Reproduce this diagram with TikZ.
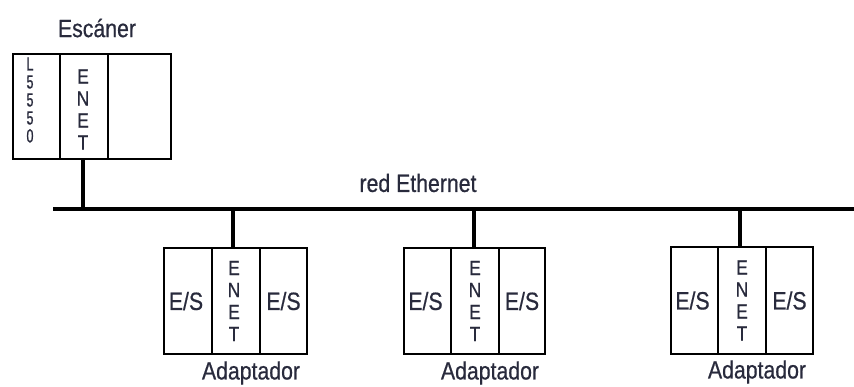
\documentclass[tikz,border=0pt]{standalone}
\usepackage{fontspec}
\setmainfont{Liberation Sans}
\newfontfamily\narrowsans[FakeStretch=0.85,FakeBold=0.6]{Liberation Sans}
\newfontfamily\tightsans[FakeStretch=0.66,FakeBold=0.9]{Liberation Sans}
\definecolor{ink}{RGB}{40,42,60}
\begin{document}
\begin{tikzpicture}[x=1pt,y=-1pt,
  slot/.style={draw=black, line width=1.4pt, inner sep=0pt, outer sep=0pt,
               anchor=north west, minimum height=#1},
  slot/.default=106pt,
  lbl/.style={text=ink, font=\narrowsans\fontsize{25}{28}\selectfont, inner sep=0pt},
  stack/.style={text=ink, font=\narrowsans\fontsize{20.5}{22}\selectfont, align=center, inner sep=0pt},
  small stack/.style={text=ink, font=\tightsans\fontsize{19}{18}\selectfont, align=center, inner sep=0pt},
  bus/.style={line width=3.8pt},
  drop/.style={line width=3.6pt}]
\useasboundingbox (0,0) rectangle (854,387);

% scanner chassis
\node[slot=105pt, minimum width=47pt] (sc1) at (13,54) {};
\node[slot=105pt, minimum width=48pt] (sc2) at (60,54) {};
\node[slot=105pt, minimum width=63pt] (sc3) at (108,54) {};
\node[lbl] (scname) at (97,28) {Escáner};
\node[small stack] (sc1t) at (30,100) {L\\5\\5\\5\\0};
\node[stack] (sc2t) at ([xshift=-1pt,yshift=-3pt]sc2.center) {E\\N\\E\\T};

% Ethernet trunk
\coordinate (busW) at (53,209);
\coordinate (busE) at (854,209);
\draw[bus] (busW) -- (busE);
\node[lbl] (netname) at (418,183) {red Ethernet};

% adapter chassis 1
\node[slot, minimum width=48pt] (a1l) at (164,248) {};
\node[slot, minimum width=48pt] (a1m) at (212,248) {};
\node[slot, minimum width=47pt] (a1r) at (260,248) {};
\node[lbl] (a1lt) at ([xshift=-2pt]a1l.center) {E/S};
\node[stack] (a1mt) at ([xshift=-2pt]a1m.center) {E\\N\\E\\T};
\node[lbl] (a1rt) at (a1r.center) {E/S};
\node[lbl] (a1name) at (251,373) {Adaptador};

% adapter chassis 2
\node[slot, minimum width=47pt] (a2l) at (404,248) {};
\node[slot, minimum width=48pt] (a2m) at (451,248) {};
\node[slot, minimum width=46pt] (a2r) at (499,248) {};
\node[lbl] (a2lt) at ([xshift=-2pt]a2l.center) {E/S};
\node[stack] (a2mt) at (a2m.center) {E\\N\\E\\T};
\node[lbl] (a2rt) at (a2r.center) {E/S};
\node[lbl] (a2name) at (490,373) {Adaptador};

% adapter chassis 3
\node[slot=107pt, minimum width=47pt] (a3l) at (671,247) {};
\node[slot=107pt, minimum width=48pt] (a3m) at (718,247) {};
\node[slot=107pt, minimum width=47pt] (a3r) at (766,247) {};
\node[lbl] (a3lt) at ([xshift=-2pt]a3l.center) {E/S};
\node[stack] (a3mt) at (a3m.center) {E\\N\\E\\T};
\node[lbl] (a3rt) at (a3r.center) {E/S};
\node[lbl] (a3name) at (757,372) {Adaptador};

% drops to the trunk
\draw[drop] ([xshift=-1pt]sc2.south) -- ([xshift=-1pt]sc2.south |- busW);
\draw[drop] ([xshift=-3pt]a1m.north) -- ([xshift=-3pt]a1m.north |- busW);
\draw[drop] ([xshift=-1pt]a2m.north) -- ([xshift=-1pt]a2m.north |- busW);
\draw[drop] ([xshift=-2pt]a3m.north) -- ([xshift=-2pt]a3m.north |- busW);
\end{tikzpicture}
\end{document}
